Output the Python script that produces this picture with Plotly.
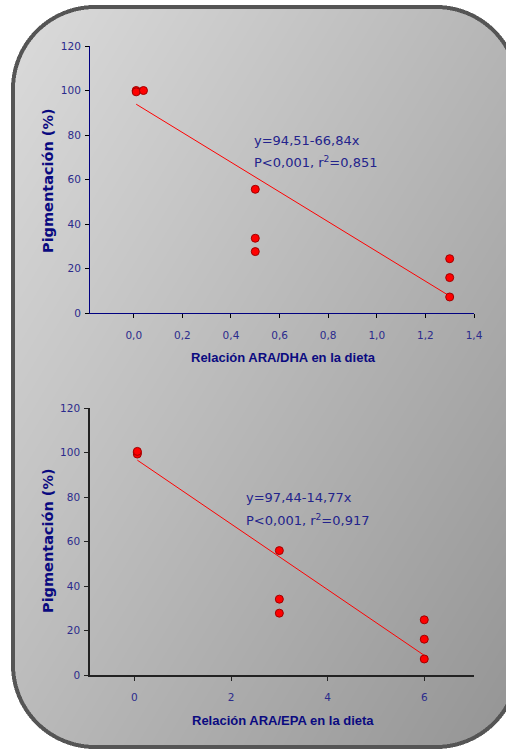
import base64, struct, zlib
import numpy as np
import plotly.graph_objects as go

# ---------------- data ----------------
dha_ratio = [0.01, 0.01, 0.04, 0.5, 0.5, 0.5, 1.3, 1.3, 1.3]
dha_pigm = [100, 99.4, 100, 55.6, 33.6, 27.6, 24.4, 15.9, 7.2]
dha_fit = (94.51, -66.84)
dha_text = ["y=94,51-66,84x", "P<0,001, r<sup>2</sup>=0,851"]

epa_ratio = [0.06, 0.06, 0.06, 3, 3, 3, 6, 6, 6]
epa_pigm = [100, 99.3, 100.5, 55.9, 34.1, 27.8, 24.8, 16.1, 7.2]
epa_fit = (97.44, -14.77)
epa_text = ["y=97,44-14,77x", "P<0,001, r<sup>2</sup>=0,917"]

y_ticks = [0, 20, 40, 60, 80, 100, 120]
dha_ticks = [0.0, 0.2, 0.4, 0.6, 0.8, 1.0, 1.2, 1.4]
dha_ticklabels = ["0,0", "0,2", "0,4", "0,6", "0,8", "1,0", "1,2", "1,4"]
epa_ticks = [0, 2, 4, 6]
y_title = "Pigmentación (%)"
dha_title = "Relación ARA/DHA en la dieta"
epa_title = "Relación ARA/EPA en la dieta"

W, H = 506, 751

# ---------------- background image (rounded gradient panel) ----------------
def make_bg():
    ss = 2
    ys, xs = np.mgrid[0:H * ss, 0:W * ss].astype(float)
    xs = (xs + 0.5) / ss
    ys = (ys + 0.5) / ss
    xl, xr, yt, yb, r = 13.0, 518.0, 7.0, 747.0, 82.0
    cx, cy = (xl + xr) / 2, (yt + yb) / 2
    hx, hy = (xr - xl) / 2, (yb - yt) / 2
    qx = np.abs(xs - cx) - (hx - r)
    qy = np.abs(ys - cy) - (hy - r)
    d = np.sqrt(np.maximum(qx, 0) ** 2 + np.maximum(qy, 0) ** 2) + np.minimum(np.maximum(qx, qy), 0) - r
    v = 221 - 38 * (xs / W) - 34 * (ys / H)
    rgb = np.stack([v, v, v], -1)
    border = np.abs(d) <= 2.0
    inside = d < 0
    out = np.ones_like(rgb) * 255.0
    out[inside] = rgb[inside]
    out[border] = [85, 85, 85]
    out = out.reshape(H, ss, W, ss, 3).mean(axis=(1, 3))
    img = np.clip(out, 0, 255).astype(np.uint8)
    raw = b"".join(b"\x00" + img[i].tobytes() for i in range(H))

    def chunk(t, data):
        c = struct.pack(">I", len(data)) + t + data
        return c + struct.pack(">I", zlib.crc32(t + data) & 0xFFFFFFFF)

    png = b"\x89PNG\r\n\x1a\n" + chunk(b"IHDR", struct.pack(">IIBBBBB", W, H, 8, 2, 0, 0, 0)) \
        + chunk(b"IDAT", zlib.compress(raw, 9)) + chunk(b"IEND", b"")
    return "data:image/png;base64," + base64.b64encode(png).decode()


def py(p):
    return 1 - p / H


def px(p):
    return p / W


fig = go.Figure()

marker = dict(color="#ff0000", size=8, line=dict(color="#a00000", width=1))

# top chart
fx = [min(dha_ratio), max(dha_ratio)]
fig.add_trace(go.Scatter(x=fx, y=[dha_fit[0] + dha_fit[1] * v for v in fx], mode="lines",
                         line=dict(color="#ff0000", width=1), xaxis="x", yaxis="y", hoverinfo="skip"))
fig.add_trace(go.Scatter(x=dha_ratio, y=dha_pigm, mode="markers", marker=marker, xaxis="x", yaxis="y"))

# bottom chart
fx2 = [min(epa_ratio), max(epa_ratio)]
fig.add_trace(go.Scatter(x=fx2, y=[epa_fit[0] + epa_fit[1] * v for v in fx2], mode="lines",
                         line=dict(color="#ff0000", width=1), xaxis="x2", yaxis="y2", hoverinfo="skip"))
fig.add_trace(go.Scatter(x=epa_ratio, y=epa_pigm, mode="markers", marker=marker, xaxis="x2", yaxis="y2"))

tickfont = dict(family="DejaVu Sans", size=10.5, color="#2b2b8c")
xdom = [px(90), px(474)]

common_y = dict(range=[0, 120], tickvals=y_ticks, showgrid=False, zeroline=False, showline=True,
                ticks="outside", ticklen=4, tickfont=tickfont, ticklabelstandoff=2, automargin=False)
common_x = dict(showgrid=False, zeroline=False, showline=True, ticks="outside", ticklen=4,
                tickfont=tickfont, ticklabelstandoff=8, automargin=False)

fig.update_layout(
    width=W, height=H,
    margin=dict(l=0, r=0, t=0, b=0, pad=0, autoexpand=False),
    paper_bgcolor="white", plot_bgcolor="rgba(0,0,0,0)",
    showlegend=False,
    xaxis=dict(domain=xdom, range=[-0.18, 1.4], tickvals=dha_ticks, ticktext=dha_ticklabels,
               anchor="y", linecolor="#000080", linewidth=1, tickcolor="#000000", **common_x),
    yaxis=dict(domain=[py(313), py(46)], anchor="x", linecolor="#000080", linewidth=1,
               tickcolor="#000000", **common_y),
    xaxis2=dict(domain=xdom, range=[-0.92, 7.03], tickvals=epa_ticks, anchor="y2",
                linecolor="#222222", linewidth=1.5, tickcolor="#222222", **common_x),
    yaxis2=dict(domain=[py(675), py(408)], anchor="x2", linecolor="#222222", linewidth=1.5,
                tickcolor="#222222", **common_y),
    images=[dict(source=make_bg(), xref="paper", yref="paper", x=0, y=1, sizex=1, sizey=1,
                 xanchor="left", yanchor="top", sizing="stretch", layer="below")],
)

title_font_y = dict(family="DejaVu Sans", size=14.5, color="#0a0a80")
title_font_x = dict(family="Liberation Sans", size=13, color="#0a0a80")
note_font = dict(family="DejaVu Sans", size=13, color="#23238c")

ann = [
    dict(x=px(48), y=py(181), text="<b>%s</b>" % y_title, textangle=-90, font=title_font_y),
    dict(x=px(48), y=py(541), text="<b>%s</b>" % y_title, textangle=-90, font=title_font_y),
    dict(x=px(283), y=py(357), text="<b>%s</b>" % dha_title, font=title_font_x),
    dict(x=px(283), y=py(720), text="<b>%s</b>" % epa_title, font=title_font_x),
    dict(x=px(252), y=py(140), text=dha_text[0], xanchor="left", font=note_font),
    dict(x=px(252), y=py(162), text=dha_text[1], xanchor="left", font=note_font),
    dict(x=px(244), y=py(497), text=epa_text[0], xanchor="left", font=note_font),
    dict(x=px(244), y=py(520), text=epa_text[1], xanchor="left", font=note_font),
]
for a in ann:
    a.setdefault("xanchor", "center")
    a.update(xref="paper", yref="paper", yanchor="middle", showarrow=False)
fig.update_layout(annotations=ann)

post = """
var st=document.createElement('style');
st.textContent='html,body{margin:0!important;padding:0!important;overflow:hidden!important}';
document.head.appendChild(st);
"""
fig.write_html("out.html", config={"displayModeBar": False}, post_script=post)
